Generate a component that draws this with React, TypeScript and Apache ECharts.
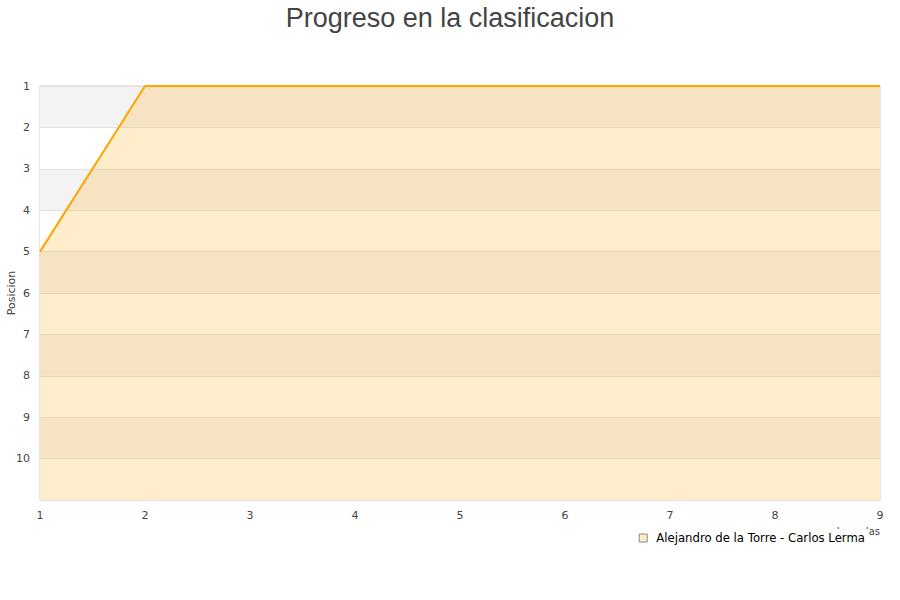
import React, { useEffect, useRef } from "react";
import * as echarts from "echarts";

const jornadas = ["1", "2", "3", "4", "5", "6", "7", "8", "9"];
const posiciones = [5, 1, 1, 1, 1, 1, 1, 1, 1];
const serieNombre = "Alejandro de la Torre - Carlos Lerma";

export default function App() {
  const ref = useRef<HTMLDivElement>(null);
  useEffect(() => {
    const chart = echarts.init(ref.current!, null, { renderer: "svg" });
    chart.setOption({
      animation: false,
      backgroundColor: "#ffffff",
      title: {
        text: "Progreso en la clasificacion",
        left: "center",
        top: -1,
        textStyle: { fontFamily: "Liberation Sans", fontSize: 27, fontWeight: "normal", color: "#444" },
      },
      grid: {
        left: 40,
        right: 20,
        top: 86,
        bottom: 100,
        containLabel: false,
        outerBoundsMode: "none",
        show: true,
        borderColor: "#ccc",
        borderWidth: 1,
        backgroundColor: "transparent",
      },
      legend: {
        data: [{ name: serieNombre, icon: "rect" }],
        right: 32,
        top: 529,
        z: 20,
        itemWidth: 8,
        itemHeight: 8,
        itemGap: 10,
        backgroundColor: "#fff",
        padding: [3, 3, 5, 3],
        itemStyle: { color: "#fdebc9", borderColor: "#888", borderWidth: 1 },
        textStyle: { fontFamily: "DejaVu Sans", fontSize: 11.7, color: "#000", padding: [0, 0, 0, 4] },
      },
      xAxis: {
        type: "category",
        data: jornadas,
        boundaryGap: false,
        name: "Jornadas",
        nameLocation: "end",
        nameGap: 0,
        nameMoveOverlap: false,
        nameTextStyle: {
          fontFamily: "DejaVu Sans",
          fontSize: 10,
          color: "#444",
          align: "right",
          verticalAlign: "top",
          padding: [26, 0, 0, 0],
        },
        axisLine: { show: false },
        axisTick: { show: false },
        axisLabel: { fontFamily: "DejaVu Sans", fontSize: 11, color: "#444", margin: 10 },
        splitLine: { show: false },
      },
      yAxis: {
        type: "value",
        inverse: true,
        min: 1,
        max: 11,
        interval: 1,
        name: "Posicion",
        nameLocation: "middle",
        nameGap: 23,
        nameMoveOverlap: false,
        nameTextStyle: { fontFamily: "DejaVu Sans", fontSize: 11, color: "#444" },
        axisLine: { show: false },
        axisTick: { show: false },
        axisLabel: {
          fontFamily: "DejaVu Sans",
          fontSize: 11,
          color: "#444",
          margin: 10,
          formatter: (v: number) => (v >= 11 ? "" : String(v)),
        },
        splitLine: { show: true, lineStyle: { color: "#e2e2e2", width: 1 } },
        splitArea: { show: true, areaStyle: { color: ["#f3f3f3", "#ffffff"] } },
      },
      series: [
        {
          name: serieNombre,
          type: "line",
          data: posiciones,
          symbol: "none",
          lineStyle: { color: "#ffa500", width: 2 },
          itemStyle: { color: "#fdebc9" },
          areaStyle: { color: "rgba(255,165,0,0.2)", opacity: 1, origin: "end" },
        },
      ],
    });
    return () => chart.dispose();
  }, []);
  return <div ref={ref} style={{ width: 900, height: 600, position: "absolute", left: 0, top: 0 }} />;
}
